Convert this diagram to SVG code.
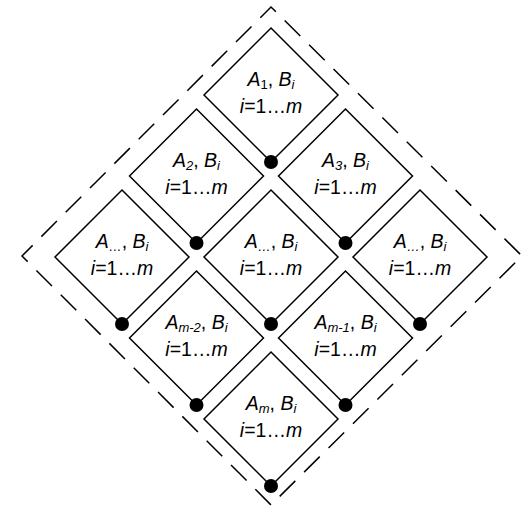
<svg xmlns="http://www.w3.org/2000/svg" width="528" height="508" viewBox="0 0 528 508">
<style>
.d{fill:#fff;stroke:#000;stroke-width:1.5}
.o{fill:none;stroke:#000;stroke-width:1.5;stroke-dasharray:22 12.4;stroke-dashoffset:7}
.dot{fill:#000}
text{font-family:"Liberation Sans",Arial,sans-serif;font-size:19.5px;fill:#000;text-anchor:middle}
.it{font-style:italic}
.s{font-size:13px}
</style>
<defs>
<path id="dm" d="M0,-67 L67,0 L0,67 L-67,0 Z"/>
</defs>
<g id="outer"><path class="o" d="M22,256 L271,7 L522,256 L271,505 Z"/></g>
<g id="n1" transform="translate(271,95)"><use href="#dm" class="d"/><text y="-9"><tspan class="it">A</tspan><tspan class="s" dy="3">1</tspan><tspan dy="-3">, </tspan><tspan class="it">B</tspan><tspan class="s it" dy="3">i</tspan></text><text y="18"><tspan class="it">i</tspan>=1…<tspan class="it">m</tspan></text></g>
<g id="n2" transform="translate(196.5,176)"><use href="#dm" class="d"/><text y="-9"><tspan class="it">A</tspan><tspan class="s it" dy="3">2</tspan><tspan dy="-3">, </tspan><tspan class="it">B</tspan><tspan class="s it" dy="3">i</tspan></text><text y="18"><tspan class="it">i</tspan>=1…<tspan class="it">m</tspan></text></g>
<g id="n3" transform="translate(345.5,176)"><use href="#dm" class="d"/><text y="-9"><tspan class="it">A</tspan><tspan class="s it" dy="3">3</tspan><tspan dy="-3">, </tspan><tspan class="it">B</tspan><tspan class="s it" dy="3">i</tspan></text><text y="18"><tspan class="it">i</tspan>=1…<tspan class="it">m</tspan></text></g>
<g id="n4" transform="translate(122,257)"><use href="#dm" class="d"/><text y="-9"><tspan class="it">A</tspan><tspan class="s it" dy="3">…</tspan><tspan dy="-3">, </tspan><tspan class="it">B</tspan><tspan class="s it" dy="3">i</tspan></text><text y="18"><tspan class="it">i</tspan>=1…<tspan class="it">m</tspan></text></g>
<g id="n5" transform="translate(271,257)"><use href="#dm" class="d"/><text y="-9"><tspan class="it">A</tspan><tspan class="s it" dy="3">…</tspan><tspan dy="-3">, </tspan><tspan class="it">B</tspan><tspan class="s it" dy="3">i</tspan></text><text y="18"><tspan class="it">i</tspan>=1…<tspan class="it">m</tspan></text></g>
<g id="n6" transform="translate(420,257)"><use href="#dm" class="d"/><text y="-9"><tspan class="it">A</tspan><tspan class="s it" dy="3">…</tspan><tspan dy="-3">, </tspan><tspan class="it">B</tspan><tspan class="s it" dy="3">i</tspan></text><text y="18"><tspan class="it">i</tspan>=1…<tspan class="it">m</tspan></text></g>
<g id="n7" transform="translate(196.5,338)"><use href="#dm" class="d"/><text y="-9"><tspan class="it">A</tspan><tspan class="s it" dy="3">m-2</tspan><tspan dy="-3">, </tspan><tspan class="it">B</tspan><tspan class="s it" dy="3">i</tspan></text><text y="18"><tspan class="it">i</tspan>=1…<tspan class="it">m</tspan></text></g>
<g id="n8" transform="translate(345.5,338)"><use href="#dm" class="d"/><text y="-9"><tspan class="it">A</tspan><tspan class="s it" dy="3">m-1</tspan><tspan dy="-3">, </tspan><tspan class="it">B</tspan><tspan class="s it" dy="3">i</tspan></text><text y="18"><tspan class="it">i</tspan>=1…<tspan class="it">m</tspan></text></g>
<g id="n9" transform="translate(271,419)"><use href="#dm" class="d"/><text y="-9"><tspan class="it">A</tspan><tspan class="s it" dy="3">m</tspan><tspan dy="-3">, </tspan><tspan class="it">B</tspan><tspan class="s it" dy="3">i</tspan></text><text y="18"><tspan class="it">i</tspan>=1…<tspan class="it">m</tspan></text></g>
<g id="connectors">
<circle class="dot" cx="271" cy="162" r="7"/>
<circle class="dot" cx="196.5" cy="243" r="7"/>
<circle class="dot" cx="345.5" cy="243" r="7"/>
<circle class="dot" cx="122" cy="324" r="7"/>
<circle class="dot" cx="271" cy="324" r="7"/>
<circle class="dot" cx="420" cy="324" r="7"/>
<circle class="dot" cx="196.5" cy="405" r="7"/>
<circle class="dot" cx="345.5" cy="405" r="7"/>
<circle class="dot" cx="271" cy="486" r="7"/>
</g>
</svg>
